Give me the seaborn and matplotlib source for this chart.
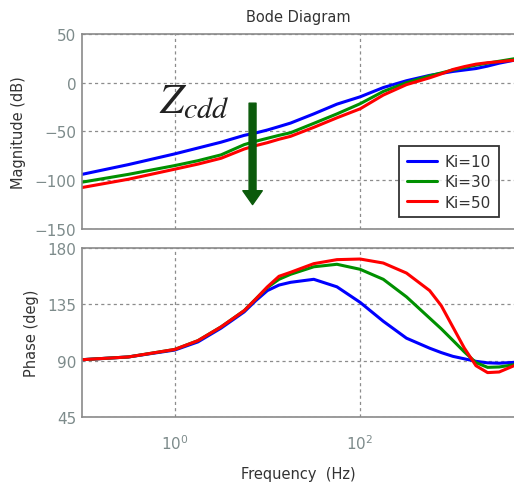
import numpy as np
import pandas as pd
import matplotlib
matplotlib.use("Agg")
import matplotlib.pyplot as plt
import seaborn as sns

sns.set_theme(style="white")
plt.rcParams['font.family'] = ['DejaVu Sans']
plt.rcParams['mathtext.fontset'] = 'stix'

# %% data (log10 of frequency in Hz)
logf = [-1.0, -0.5, 0.0, 0.25, 0.5, 0.75, 0.875, 1.0, 1.125, 1.25, 1.5, 1.75,
        2.0, 2.25, 2.5, 2.75, 2.875, 3.0, 3.125, 3.25, 3.375, 3.5, 3.66]
labels = ["Ki=10", "Ki=30", "Ki=50"]

mag_ki10 = [-94, -84, -73, -67, -61, -54, -51.5, -48.5, -45, -41.4, -32, -22,
            -14.5, -5, 2, 7.5, 9.5, 11.5, 13, 14.5, 17, 20, 23]
mag_ki30 = [-102, -94, -85, -80, -74, -63.5, -60, -57, -54, -51.3, -41.7, -32,
            -21.6, -9, 0, 7, 10, 13, 15.5, 18, 20, 22, 24.5]
mag_ki50 = [-107.5, -99, -88.7, -83.5, -77.5, -68, -64.5, -61.5, -58, -55, -45.8, -36,
            -26.8, -12.7, -2, 5, 9, 13.5, 16.5, 19, 20.5, 21.5, 23]

ph_ki10 = [90.8, 93, 98.5, 105, 116, 129, 138, 146, 150.4, 152.6, 155, 149,
           136.6, 121.5, 108, 100, 96.5, 93.5, 91.5, 89.5, 88.3, 88, 88.7]
ph_ki30 = [90.8, 93, 99, 106, 117, 130, 139.3, 148.5, 155, 159, 165, 167,
           163, 155, 141, 124, 115.5, 106.3, 97, 88.5, 84.7, 85, 86.8]
ph_ki50 = [90.8, 93, 99, 106, 117, 130, 139.3, 149, 157.4, 160.6, 167.5, 170.7,
           171.2, 168, 160, 146, 134, 117, 100, 86, 80.5, 81, 86]

palette = {"Ki=10": "#0000ff", "Ki=30": "#009000", "Ki=50": "#ff0000"}

rows = []
for lab, m, p in zip(labels, [mag_ki10, mag_ki30, mag_ki50], [ph_ki10, ph_ki30, ph_ki50]):
    for lf, mv, pv in zip(logf, m, p):
        rows.append({"freq": 10 ** lf, "mag": mv, "phase": pv, "Ki": lab})
df = pd.DataFrame(rows)

# %%
fig = plt.figure(figsize=(5.14, 4.85), dpi=100)
ax1 = fig.add_axes([0.1595, 0.5258, 0.8405, 0.4022])
ax2 = fig.add_axes([0.1595, 0.138, 0.8405, 0.3486])

tick_col = "#7d8b8b"
for ax in (ax1, ax2):
    ax.set_xscale("log")
    ax.set_xlim(10 ** -1, 10 ** 3.66)
    ax.grid(True, which="major", linestyle=(0, (2.5, 2.5)), color="#8c8c8c", linewidth=0.9)
    ax.tick_params(length=0, labelsize=11, colors=tick_col, pad=4)
    ax.minorticks_off()
    for s in ["left", "top", "bottom"]:
        ax.spines[s].set_color("#8a8a8a")
        ax.spines[s].set_linewidth(1.2)
    ax.spines["right"].set_visible(False)
    ax.set_facecolor("white")

sns.lineplot(data=df, x="freq", y="mag", hue="Ki", palette=palette, ax=ax1,
             linewidth=2.2, sort=False)
sns.lineplot(data=df, x="freq", y="phase", hue="Ki", palette=palette, ax=ax2,
             linewidth=2.2, sort=False, legend=False)

ax1.set_ylim(-150, 50)
ax1.set_yticks([-150, -100, -50, 0, 50])
ax1.set_xticks([1, 100])
ax1.set_xticklabels([])
ax1.set_xlabel("")
ax1.set_ylabel("Magnitude (dB)", fontsize=10.5, color="#333333", labelpad=6)
ax1.set_title("Bode Diagram", fontsize=10.5, color="#333333", pad=9)

ax2.set_ylim(45, 180)
ax2.set_yticks([45, 90, 135, 180])
ax2.set_xticks([1, 100])
ax2.set_xticklabels(["$\\mathdefault{10^0}$", "$\\mathdefault{10^2}$"])
ax2.tick_params(axis="x", pad=12)
ax2.set_xlabel("Frequency  (Hz)", fontsize=10.5, color="#333333", labelpad=10)
ax2.set_ylabel("Phase (deg)", fontsize=10.5, color="#333333", labelpad=6)

leg = ax1.legend(loc="lower right", bbox_to_anchor=(0.965, 0.06), fontsize=11,
                 frameon=True, fancybox=False, handlelength=2.0, borderaxespad=0,
                 borderpad=0.5, labelspacing=0.35, handletextpad=0.5)
leg.get_frame().set_edgecolor("black")
leg.get_frame().set_linewidth(1.3)
leg.set_title(None)
for t in leg.get_texts():
    t.set_color("#333333")

# annotation: Z_cdd with a downward arrow
ax1.text(0.26, 0.66, "$Z_{cdd}$", transform=ax1.transAxes, fontsize=31,
         color="#222222", ha="center", va="center")
ax1.annotate("", xy=(10 ** 0.84, -125), xytext=(10 ** 0.84, -21),
             arrowprops=dict(facecolor="#0b5a0b", edgecolor="#0b5a0b",
                             width=5, headwidth=14, headlength=10))

fig.savefig("out.png", dpi=100)
